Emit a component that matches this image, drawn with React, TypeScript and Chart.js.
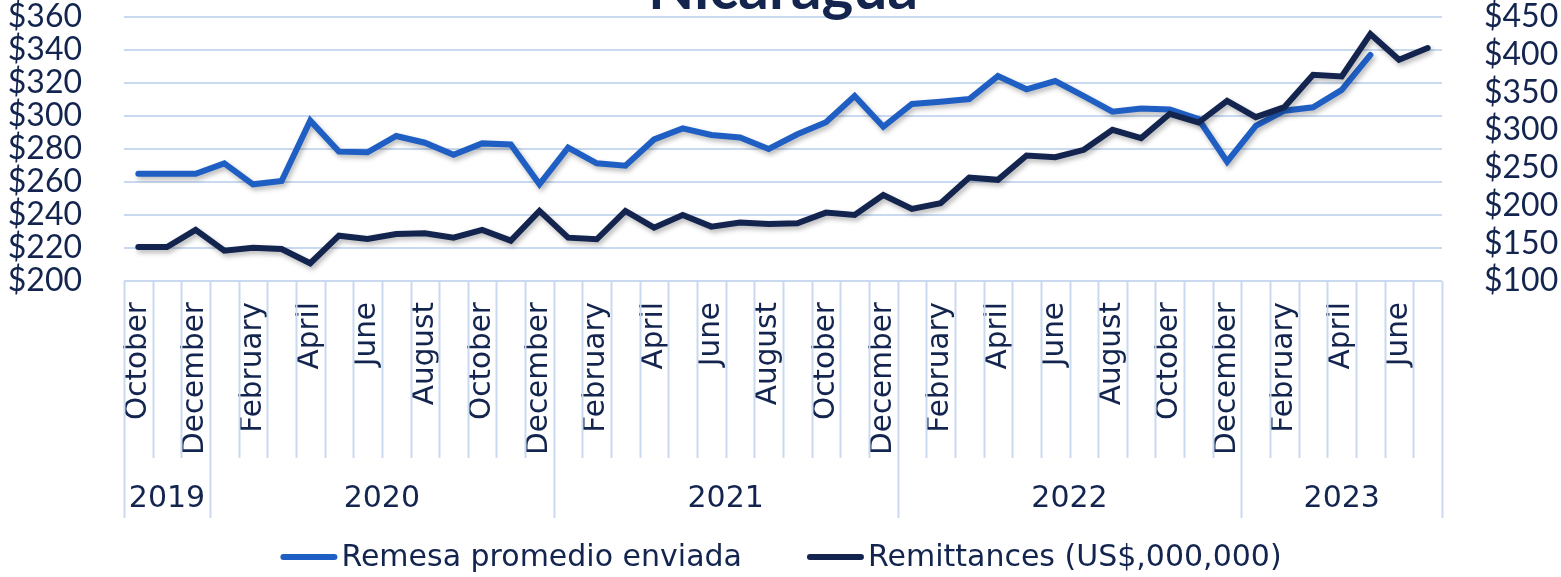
import React, { useEffect, useRef } from "react";
import { Chart, registerables } from "chart.js";

Chart.register(...registerables);

const MONTHS: string[] = [
  "October", "November", "December",
  "January", "February", "March", "April", "May", "June", "July", "August", "September", "October", "November", "December",
  "January", "February", "March", "April", "May", "June", "July", "August", "September", "October", "November", "December",
  "January", "February", "March", "April", "May", "June", "July", "August", "September", "October", "November", "December",
  "January", "February", "March", "April", "May", "June", "July",
];

const YEAR_LABELS: string[] = ["2019", "2020", "2021", "2022", "2023"];
const YEAR_COUNTS: number[] = [3, 12, 12, 12, 7];

// Average remittance sent (left axis, US$)
const REMESA: number[] = [
  265, 265, 265, 271.3, 258.6, 260.6, 297.2, 278.4, 278, 287.9, 283.8, 276.5,
  283.4, 282.8, 258.6, 280.8, 271.3, 269.9, 285.8, 292.5, 288.5, 287, 280, 288.9,
  296.2, 312.1, 293.5, 307.3, 308.7, 310.3, 324.2, 316.2, 321.2, 312, 302.6, 304.6,
  304, 298.2, 272.3, 294, 303.2, 305.3, 315.8, 337,
];

// Remittances (right axis, US$ millions)
const REMITTANCES: number[] = [
  145.1, 145.1, 167.7, 140.2, 144.2, 142.5, 123.5, 160.1, 155.7, 162.4, 163.3, 157.5,
  167.7, 153.5, 192.9, 157.5, 155.3, 192.9, 170.7, 187.6, 172.1, 177.4, 175.7, 176.6,
  190.7, 187.6, 214.1, 195.6, 203.1, 237.1, 234.1, 266.3, 264.2, 273.9, 300.4, 289.4,
  321.7, 310.1, 338.9, 317.3, 330.6, 373.4, 371.2, 427.4, 393.3, 408.9,
];

const SERIES_NAMES: string[] = ["Remesa promedio enviada", "Remittances (US$,000,000)"];
const TITLE = "Nicaragua";

const BLUE = "#1f5fc4";
const NAVY = "#13254f";
const GRID = "#c8d9f0";

const decorPlugin = {
  id: "decor",
  beforeDatasetDraw(chart: any) {
    const ctx = chart.ctx;
    ctx.save();
    ctx.shadowColor = "rgba(0,0,0,0.28)";
    ctx.shadowBlur = 5;
    ctx.shadowOffsetX = 2;
    ctx.shadowOffsetY = 3;
  },
  afterDatasetDraw(chart: any) {
    chart.ctx.restore();
  },
  afterDraw(chart: any) {
    const ctx = chart.ctx;
    const xs = chart.scales.x;
    const area = chart.chartArea;
    const n = MONTHS.length;
    const bottom = area.bottom;
    const boundary = (i: number) => {
      if (i <= 0) return area.left;
      if (i >= n) return area.right;
      return (xs.getPixelForValue(i - 1) + xs.getPixelForValue(i)) / 2;
    };
    const yearBounds = new Set<number>();
    let acc = 0;
    yearBounds.add(0);
    YEAR_COUNTS.forEach((c) => {
      acc += c;
      yearBounds.add(acc);
    });
    ctx.save();
    ctx.strokeStyle = GRID;
    ctx.lineWidth = 2;
    for (let i = 0; i <= n; i++) {
      const x = Math.round(boundary(i)) + 0.5;
      ctx.beginPath();
      ctx.moveTo(x, bottom);
      ctx.lineTo(x, bottom + (yearBounds.has(i) ? 237 : 177));
      ctx.stroke();
    }
    // year labels
    ctx.fillStyle = NAVY;
    ctx.font = "30px 'DejaVu Sans'";
    ctx.textAlign = "center";
    ctx.textBaseline = "middle";
    let start = 0;
    YEAR_COUNTS.forEach((c, k) => {
      const x0 = boundary(start);
      const x1 = boundary(start + c);
      ctx.fillText(YEAR_LABELS[k], (x0 + x1) / 2, bottom + 218);
      start += c;
    });
    // title
    ctx.font = "bold 100px Lato";
    const w = ctx.measureText(TITLE).width;
    const size = (100 * 270) / w;
    ctx.font = `bold ${size}px Lato`;
    ctx.textBaseline = "alphabetic";
    ctx.fillText(TITLE, (area.left + area.right) / 2, 9);
    // legend
    ctx.font = "30px 'DejaVu Sans'";
    ctx.textAlign = "left";
    ctx.textBaseline = "middle";
    const colors = [BLUE, NAVY];
    const lineW = 57;
    const gapText = 4;
    const gapItem = 65;
    const widths = SERIES_NAMES.map((s) => ctx.measureText(s).width);
    const total = widths.reduce((a, b) => a + b, 0) + 2 * (lineW + gapText) + gapItem;
    let x = 781 - total / 2;
    const ly = 557;
    SERIES_NAMES.forEach((s, k) => {
      ctx.strokeStyle = colors[k];
      ctx.lineWidth = 6;
      ctx.lineCap = "round";
      ctx.beginPath();
      ctx.moveTo(x + 3, ly);
      ctx.lineTo(x + lineW - 3, ly);
      ctx.stroke();
      ctx.fillText(s, x + lineW + gapText, ly + 1);
      x += lineW + gapText + widths[k] + gapItem;
    });
    ctx.restore();
  },
};

export default function App() {
  const ref = useRef<HTMLCanvasElement | null>(null);
  useEffect(() => {
    if (!ref.current) return;
    const chart = new Chart(ref.current, {
      type: "line",
      data: {
        labels: MONTHS,
        datasets: [
          {
            label: SERIES_NAMES[0],
            data: REMESA,
            borderColor: BLUE,
            backgroundColor: BLUE,
            borderWidth: 6,
            pointRadius: 0,
            tension: 0,
            borderCapStyle: "round",
            yAxisID: "y",
            order: 1,
          },
          {
            label: SERIES_NAMES[1],
            data: REMITTANCES,
            borderColor: NAVY,
            backgroundColor: NAVY,
            borderWidth: 6,
            pointRadius: 0,
            tension: 0,
            borderCapStyle: "round",
            yAxisID: "y1",
            order: 0,
          },
        ],
      },
      options: {
        responsive: false,
        animation: false,
        layout: { padding: { top: 17, left: 0, right: 0, bottom: 0 } },
        plugins: {
          legend: { display: false },
          title: { display: false },
          tooltip: { enabled: false },
        },
        scales: {
          x: {
            type: "category",
            offset: true,
            grid: { display: false, drawTicks: false },
            border: { display: false },
            ticks: {
              autoSkip: false,
              maxRotation: 90,
              minRotation: 90,
              padding: 21,
              color: NAVY,
              font: { family: "'DejaVu Sans'", size: 29.5 },
              callback: (_v: any, i: number) => (i % 2 === 0 ? MONTHS[i] : ""),
            },
            afterFit: (s: any) => {
              s.height = 296;
            },
          },
          y: {
            position: "left",
            min: 200,
            max: 360,
            grid: { color: GRID, lineWidth: 2, drawTicks: true, tickLength: 42, tickColor: "rgba(0,0,0,0)" },
            border: { display: false },
            ticks: {
              autoSkip: false,
              stepSize: 20,
              padding: 0,
              color: NAVY,
              font: { family: "Lato", size: 32, lineHeight: 1 },
              callback: (v: any) => "$" + v,
            },
            afterFit: (s: any) => {
              s.width = 124;
            },
          },
          y1: {
            position: "right",
            min: 100,
            max: 450,
            grid: { drawOnChartArea: false, drawTicks: true, tickLength: 42, tickColor: "rgba(0,0,0,0)" },
            border: { display: false },
            ticks: {
              autoSkip: false,
              stepSize: 50,
              padding: 0,
              color: NAVY,
              font: { family: "Lato", size: 32, lineHeight: 1 },
              callback: (v: any) => "$" + v,
            },
            afterFit: (s: any) => {
              s.width = 119;
            },
          },
        },
      },
      plugins: [decorPlugin],
    });
    return () => chart.destroy();
  }, []);
  return (
    <div style={{ position: "absolute", left: 0, top: 0, width: 1561, height: 577, background: "#fff" }}>
      <canvas ref={ref} width={1561} height={577} style={{ display: "block" }} />
    </div>
  );
}
